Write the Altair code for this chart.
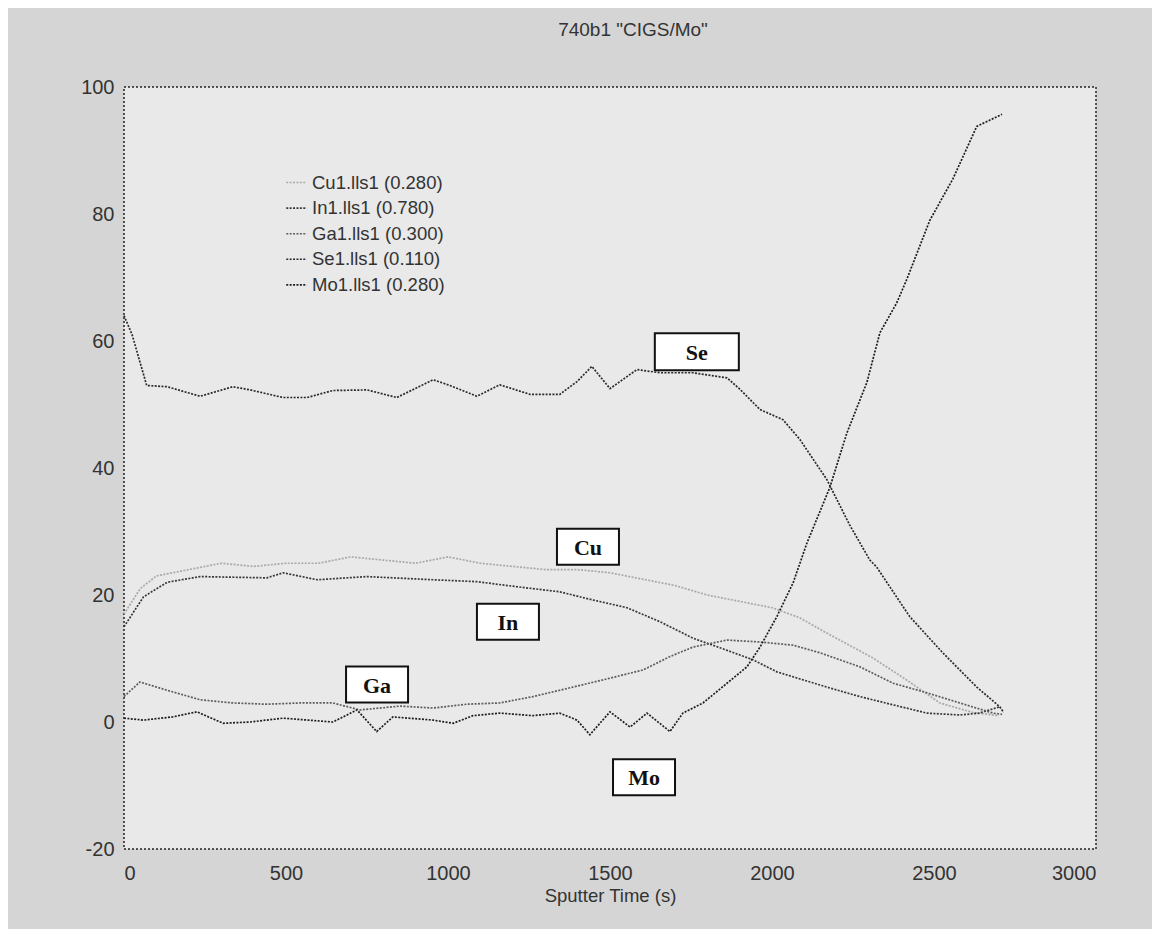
import altair as alt
import pandas as pd

# ---------------- data ----------------
series_names = ["Cu1.lls1 (0.280)", "In1.lls1 (0.780)", "Ga1.lls1 (0.300)",
                "Se1.lls1 (0.110)", "Mo1.lls1 (0.280)"]

cu_t = [0, 50, 100, 200, 300, 400, 500, 600, 700, 800, 900, 1000, 1100, 1200, 1300,
        1400, 1500, 1600, 1700, 1800, 1900, 2000, 2086, 2169, 2311, 2416, 2518, 2620, 2700]
cu_v = [17, 21, 23, 24, 25, 24.5, 25, 25, 26, 25.5, 25, 26, 25, 24.5, 24,
        24, 23.5, 22.5, 21.5, 20, 19, 18, 16.4, 14, 10.1, 6.6, 3.0, 1.5, 1.0]

in_t = [0, 60, 133, 235, 441, 491, 596, 750, 954, 1089, 1213, 1345, 1448, 1552, 1654,
        1756, 1839, 1941, 2015, 2169, 2271, 2374, 2478, 2580, 2640, 2703]
in_v = [15, 19.7, 22, 22.9, 22.7, 23.5, 22.4, 22.9, 22.4, 22.1, 21.3, 20.5, 19.2, 18, 15.8,
        13.2, 11.7, 9.8, 7.9, 5.5, 4.0, 2.7, 1.4, 1.1, 1.4, 2.4]

ga_t = [0, 49, 133, 235, 336, 441, 543, 645, 728, 852, 954, 1058, 1160, 1262, 1345,
        1500, 1602, 1685, 1756, 1861, 1963, 2065, 2148, 2271, 2374, 2478, 2580, 2682, 2710]
ga_v = [4, 6.3, 5.0, 3.5, 3.0, 2.8, 3.0, 3.0, 1.9, 2.5, 2.2, 2.8, 3.0, 4.0, 5.0,
        6.9, 8.2, 10.3, 11.8, 12.9, 12.6, 12.1, 10.9, 8.7, 6.1, 4.6, 3.0, 1.4, 1.2]

se_t = [0, 25, 70, 133, 235, 336, 389, 491, 565, 645, 750, 842, 954, 1006, 1089, 1160,
        1253, 1345, 1398, 1444, 1500, 1583, 1654, 1756, 1861, 1901, 1963, 2034, 2086,
        2169, 2240, 2302, 2323, 2425, 2527, 2632, 2703, 2715]
se_v = [64, 61, 53, 52.8, 51.3, 52.8, 52.3, 51.1, 51.1, 52.2, 52.3, 51.1, 53.9, 53, 51.3, 53.1,
        51.6, 51.6, 53.6, 56, 52.5, 55.5, 55, 55, 54.2, 52.4, 49.2, 47.6, 44.5,
        38.2, 31, 25.5, 24.4, 16.6, 10.9, 5.5, 2.4, 1.5]

mo_t = [0, 60, 150, 225, 306, 389, 491, 645, 719, 780, 830, 954, 1016, 1077, 1160, 1262,
        1345, 1398, 1438, 1500, 1562, 1614, 1685, 1725, 1787, 1861, 1923, 1963, 2015, 2065,
        2108, 2179, 2231, 2293, 2333, 2385, 2416, 2487, 2558, 2632, 2710]
mo_v = [0.6, 0.3, 0.8, 1.6, -0.2, 0, 0.6, 0, 1.9, -1.5, 0.8, 0.3, -0.2, 1.0, 1.4, 1.0,
        1.4, 0.3, -2.0, 1.6, -0.8, 1.4, -1.5, 1.4, 3.0, 6.1, 8.7, 11.8, 16.6, 21.9,
        28.2, 37, 45.5, 53.5, 61.3, 66, 69.7, 79, 85.5, 93.8, 95.7]

ann_labels = ["Se", "Cu", "In", "Ga", "Mo"]
ann_t = [1768, 1432, 1185, 781, 1605]
ann_v = [58.3, 27.6, 15.8, 5.9, -8.7]

x_ticks = [0, 500, 1000, 1500, 2000, 2500, 3000]
y_ticks = [-20, 0, 20, 40, 60, 80, 100]

# ---------------- tables ----------------
rows = []
for name, ts, vs in zip(series_names, [cu_t, in_t, ga_t, se_t, mo_t],
                        [cu_v, in_v, ga_v, se_v, mo_v]):
    for t, v in zip(ts, vs):
        rows.append({"series": name, "t": t, "v": v})
df = pd.DataFrame(rows)
ann = pd.DataFrame({"label": ann_labels, "t": ann_t, "v": ann_v})

series_colors = ["#a9a9a9", "#383838", "#5e5e5e", "#2a2a2a", "#1e1e1e"]

x_scale = alt.Scale(domain=[0, 3000], nice=False, zero=False)
y_scale = alt.Scale(domain=[-20, 100], nice=False, zero=False)

lines = alt.Chart(df).mark_line(strokeWidth=1.7, strokeDash=[2, 1.4]).encode(
    x=alt.X("t:Q", scale=x_scale,
            axis=alt.Axis(values=x_ticks, title="Sputter Time (s)",
                          labelExpr="toString(datum.value)",
                          labelPadding=14, titlePadding=3)),
    y=alt.Y("v:Q", scale=y_scale,
            axis=alt.Axis(values=y_ticks, title=None,
                          labelExpr="toString(datum.value)", labelPadding=10)),
    color=alt.Color("series:N",
                    scale=alt.Scale(domain=series_names, range=series_colors),
                    legend=alt.Legend(orient="none", legendX=161, legendY=84, title=None,
                                      symbolType="stroke", symbolSize=420,
                                      symbolStrokeWidth=1.6, symbolDash=[2, 1.4],
                                      labelFont="Liberation Sans", labelFontSize=18.5,
                                      labelColor="#333", rowPadding=4.6, labelOffset=4)),
    order=alt.Order("t:Q"),
)

boxes_small = alt.Chart(ann).transform_filter(alt.datum.label != "Se").mark_rect(
    width=62, height=36, fill="white", stroke="#111", strokeWidth=2).encode(
    x=alt.X("t:Q", scale=x_scale), y=alt.Y("v:Q", scale=y_scale))
boxes_wide = alt.Chart(ann).transform_filter(alt.datum.label == "Se").mark_rect(
    width=84, height=37, fill="white", stroke="#111", strokeWidth=2).encode(
    x=alt.X("t:Q", scale=x_scale), y=alt.Y("v:Q", scale=y_scale))
texts = alt.Chart(ann).mark_text(font="Liberation Serif", fontWeight="bold", fontSize=22,
                                 color="#111", align="center", baseline="middle", dy=1).encode(
    x=alt.X("t:Q", scale=x_scale), y=alt.Y("v:Q", scale=y_scale), text="label:N")

chart = alt.layer(lines, boxes_small, boxes_wide, texts).properties(
    width=972, height=762,
    autosize=alt.AutoSizeParams(type="none"),
    padding={"left": 116, "top": 79, "right": 56, "bottom": 80},
    background="#d5d5d5",
    title=alt.TitleParams('740b1 "CIGS/Mo"', font="Liberation Sans", fontSize=19,
                          fontWeight="normal", color="#333", offset=37, dx=23),
).configure_view(
    fill="#e9e9e9", stroke="#222", strokeWidth=1.5, strokeDash=[2, 2]
).configure_axis(
    domain=False, ticks=False, grid=False,
    labelFont="Liberation Sans", labelFontSize=20, labelColor="#333",
    titleFont="Liberation Sans", titleFontSize=18.5, titleFontWeight="normal", titleColor="#333",
)

chart.save("out.html", embed_options={"renderer": "svg", "actions": False})
